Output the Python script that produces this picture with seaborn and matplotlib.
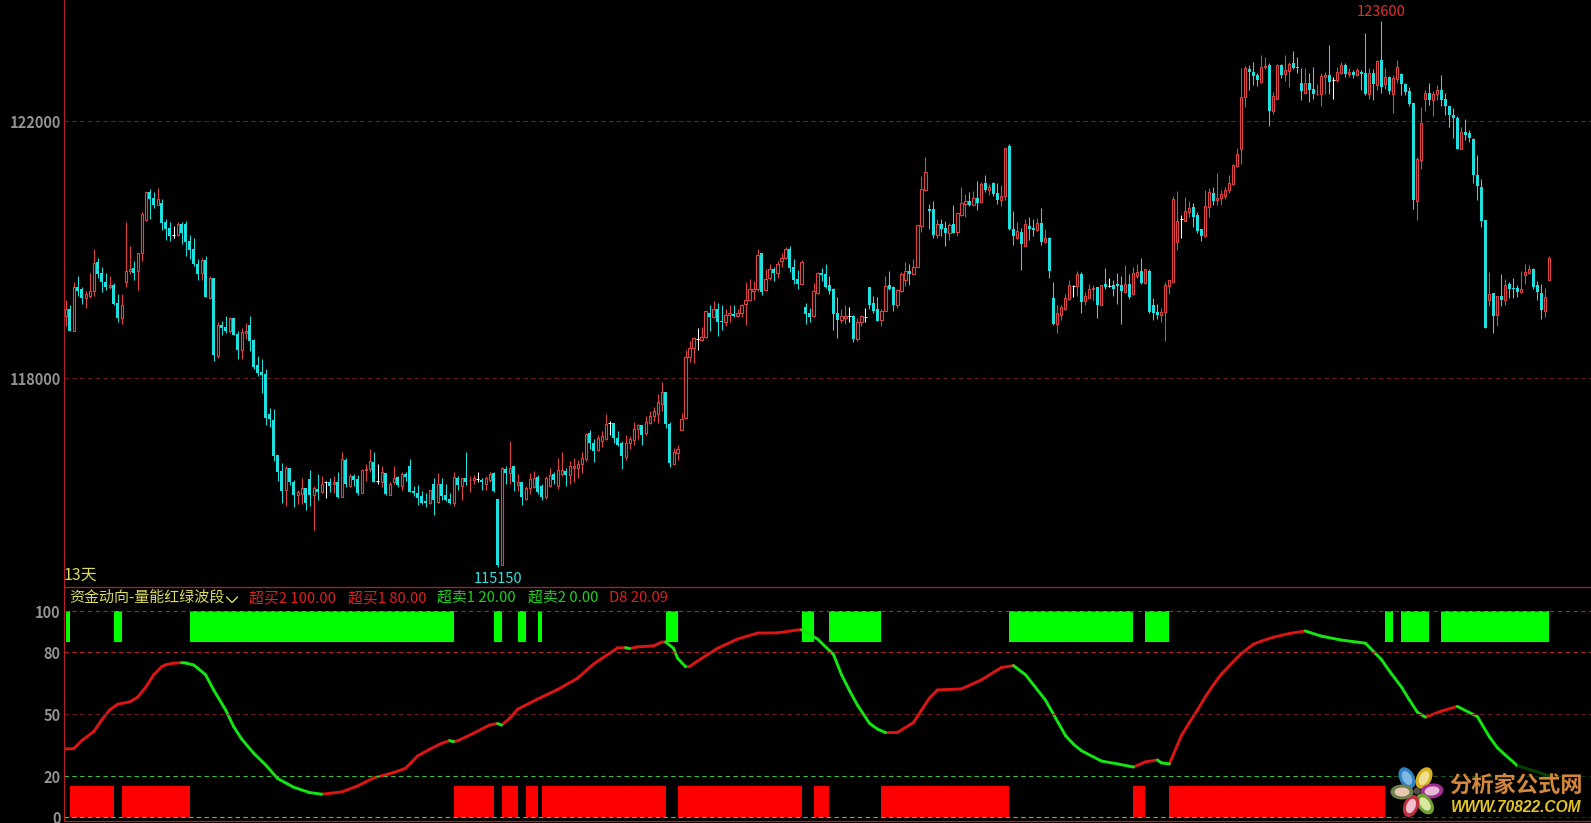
"""
Recreates the futures K-line screenshot: log-scale candles on top, the
"资金动向-量能红绿波段" indicator below.
"""

import numpy as np
import pandas as pd
import matplotlib
matplotlib.use("Agg")
import matplotlib.pyplot as plt
from matplotlib.lines import Line2D
from matplotlib.patches import Ellipse, Rectangle
from matplotlib.ticker import NullLocator
import seaborn as sns

W, H = 1591, 823
FONT = ["Noto Sans CJK SC", "DejaVu Sans"]

# Candle values, one entry per bar
highs = [
    119200,119120,119490,119580,119410,119340,119620,119990,119850,119720,119620,119570,
    119470,119300,119300,120410,120050,119810,119930,120580,120890,120930,120890,120950,
    120770,120470,120410,120350,120420,120410,120440,120210,120170,119840,119850,119880,
    119580,119540,118860,118880,118960,118940,118930,118720,118780,118850,118950,118600,
    118340,118290,118150,117550,117530,116830,116710,116670,116630,116450,116310,116480,
    116330,116600,116360,116540,116520,116440,116490,116520,116570,116870,116780,116540,
    116540,116530,116620,116690,116930,116870,116690,116660,116560,116430,116660,116510,
    116570,116570,116770,116360,116380,116290,116250,116310,116480,116560,116490,116390,
    116250,116580,116520,116490,116880,116510,116530,116580,116480,116520,116570,116570,
    116160,116650,116670,117040,116660,116540,116430,116360,116560,116590,116530,116390,
    116510,116630,116570,116780,116870,116630,116740,116780,116760,116870,117170,117210,
    117080,117130,117190,117460,117350,117320,117190,117040,117130,117120,117340,117310,
    117280,117430,117500,117560,117760,117950,117790,117330,116940,116980,117470,118430,
    118570,118640,118780,118790,119040,119130,119190,119160,119130,119060,119120,119120,
    119070,119150,119480,119530,119500,119990,119930,119680,119770,119720,119810,119930,
    120020,120050,119840,119670,119820,119160,119080,119470,119640,119700,119770,119580,
    119390,119250,119060,119130,119090,118970,118930,118970,119080,119400,119270,119250,
    119060,119570,119660,119420,119380,119640,119790,119770,119840,120370,121130,121430,
    120700,120740,120460,120460,120430,120400,120690,120550,120960,120850,120890,120900,
    121060,121050,121160,121010,121050,121030,120990,121580,121640,120590,120420,120320,
    120470,120490,120460,120480,120630,120310,120190,119490,119130,119130,119300,119520,
    119430,119660,119640,119330,119460,119440,119400,119440,119700,119540,119510,119630,
    119580,119740,119600,119710,119770,119850,119690,119680,119230,119150,119080,119480,
    119520,120820,120900,120520,120810,120740,120710,120570,120300,120910,120950,120960,
    121180,120920,120970,121150,121330,121580,122850,122880,122890,122950,122760,123050,
    123020,122930,122460,122910,122910,123060,122940,123120,123020,122840,122840,122760,
    122860,122590,122760,122790,123220,122700,122860,122940,122930,122840,122810,122840,
    122810,123400,122840,122830,122970,123600,122840,122720,122740,122970,122760,122610,
    122540,122290,121440,122220,122500,122600,122480,122570,122740,122450,122250,122210,
    122080,121910,122030,121870,121730,121470,121090,120450,119640,119310,119270,119600,
    119530,119490,119550,119430,119650,119770,119750,119700,119500,119460,119390,119880,
]
body_tops = [
    119060,119060,119410,119410,119370,119290,119350,119780,119790,119630,119490,119430,
    119430,119160,119130,119660,119680,119700,119930,120540,120880,120890,120800,120770,
    120710,120410,120320,120220,120380,120380,120380,120120,119990,119770,119820,119820,
    119540,119540,118820,118820,118790,118920,118920,118680,118710,118720,118820,118590,
    118200,118100,118070,117460,117370,116830,116590,116630,116630,116430,116270,116330,
    116330,116470,116330,116320,116400,116420,116430,116420,116420,116770,116760,116510,
    116510,116470,116610,116620,116740,116720,116440,116580,116560,116390,116480,116500,
    116540,116540,116660,116290,116250,116210,116130,116300,116390,116390,116390,116220,
    116160,116500,116490,116480,116480,116460,116480,116470,116460,116480,116540,116560,
    116160,116640,116620,116640,116660,116430,116430,116340,116470,116490,116500,116370,
    116480,116530,116540,116600,116600,116590,116660,116670,116700,116780,117150,117170,
    117020,117090,117120,117310,117320,117320,117090,117010,117020,117070,117230,117280,
    117280,117340,117420,117500,117640,117790,117790,117310,116880,116920,117380,118320,
    118470,118620,118610,118630,119030,119000,119060,119070,118880,118970,119000,118990,
    119010,119120,119210,119370,119380,119910,119930,119530,119680,119680,119770,119850,
    119990,119990,119710,119530,119790,119100,119010,119340,119620,119620,119600,119430,
    119370,119010,118950,118960,118950,118960,118870,118950,118940,119400,119160,119070,
    119040,119420,119430,119400,119360,119600,119650,119650,119710,120370,120940,121200,
    120620,120620,120380,120390,120320,120370,120380,120550,120710,120740,120740,120800,
    120800,121010,121020,120960,121020,120870,120830,121580,121610,120310,120270,120260,
    120380,120350,120320,120400,120400,120160,120170,119240,119000,119090,119240,119430,
    119420,119600,119600,119270,119380,119390,119400,119440,119450,119420,119430,119460,
    119430,119450,119460,119620,119640,119650,119680,119660,119120,119020,119020,119430,
    119510,120770,120440,120460,120590,120640,120650,120530,120300,120660,120880,120870,
    120790,120850,120920,121020,121310,121490,122380,122840,122830,122780,122730,122860,
    122880,122900,122400,122900,122890,122810,122910,122930,122860,122610,122610,122600,
    122520,122440,122720,122740,122730,122650,122780,122900,122900,122780,122780,122810,
    122790,122760,122770,122760,122960,122970,122700,122700,122680,122860,122750,122590,
    122480,122290,121400,121970,122450,122450,122440,122500,122500,122350,122250,122100,
    122060,121830,121830,121810,121720,121160,120970,120450,119300,119310,119270,119270,
    119440,119450,119390,119390,119380,119640,119680,119680,119430,119320,119250,119850,
]
body_bots = [
    118950,118730,118730,119340,119240,119240,119270,119340,119600,119490,119400,119400,
    119150,118930,118930,119490,119660,119630,119650,119940,120450,120770,120690,120690,
    120400,120300,120200,120220,120210,120240,120100,119980,119760,119600,119620,119250,
    119230,118350,118340,118780,118720,118720,118670,118430,118430,118700,118570,118170,
    118080,118050,117400,117380,116820,116580,116290,116310,116430,116220,116220,116240,
    116110,116220,116220,116280,116280,116420,116360,116390,116190,116200,116400,116370,
    116450,116250,116260,116600,116620,116430,116440,116430,116240,116220,116430,116380,
    116360,116500,116280,116250,116180,116110,116110,116100,116150,116120,116210,116150,
    116110,116110,116380,116370,116430,116450,116450,116470,116420,116400,116450,116290,
    115180,115180,116560,116560,116430,116380,116190,116170,116340,116350,116270,116190,
    116190,116370,116460,116370,116540,116530,116530,116640,116640,116690,116770,117010,
    116900,116910,117040,117080,117320,117090,116990,116810,116800,117010,117060,117220,
    117140,117160,117320,117420,117460,117610,117310,116710,116700,116860,117210,117400,
    118330,118470,118610,118590,118640,118940,118940,118870,118860,118870,118980,118950,
    118950,119000,119150,119210,119350,119370,119330,119360,119550,119620,119620,119810,
    119850,119700,119510,119450,119450,118990,118940,118950,119320,119590,119410,119340,
    118990,118900,118900,118930,118950,118610,118610,118860,118940,119130,119040,118880,
    118900,119030,119380,119120,119120,119340,119520,119610,119610,119720,120350,120920,
    120590,120210,120210,120300,120240,120240,120250,120260,120530,120700,120690,120690,
    120720,120730,120910,120920,120850,120760,120760,120830,120300,120200,120160,120070,
    120050,120300,120290,120290,120100,120110,119660,118840,118840,118970,119070,119220,
    119420,119420,119180,119190,119240,119370,119130,119120,119410,119420,119370,119420,
    119350,119330,119250,119290,119570,119470,119470,119020,119000,118970,118980,119020,
    119420,119490,120110,120460,120440,120570,120500,120270,120200,120200,120650,120750,
    120760,120790,120830,120910,121010,121290,121560,122380,122780,122720,122660,122620,
    122860,122170,122170,122360,122730,122750,122800,122850,122840,122480,122450,122500,
    122430,122430,122440,122700,122630,122650,122650,122760,122750,122750,122730,122730,
    122750,122430,122440,122590,122570,122540,122590,122480,122440,122670,122590,122460,
    122280,120760,120750,121390,122360,122330,122330,122430,122340,122250,122100,122060,
    121560,121560,121790,121730,121160,120980,120430,118780,119200,118950,118970,119200,
    119200,119380,119370,119330,119330,119590,119630,119400,119330,119050,119030,119510,
]
lows = [
    118800,118730,118730,119260,119150,119080,119230,119270,119550,119330,119360,119380,
    119130,118870,118840,119410,119600,119520,119360,119810,120430,120470,120630,120680,
    120290,120140,120120,120160,120200,120080,119880,119840,119730,119510,119520,119250,
    119220,118270,118310,118670,118690,118700,118660,118290,118300,118610,118420,118150,
    118030,117780,117290,117260,116740,116440,116110,116060,116380,116040,116090,116090,
    116000,116060,115700,116150,116250,116180,116280,116250,116180,116190,116350,116350,
    116370,116220,116250,116440,116580,116420,116390,116350,116220,116220,116390,116350,
    116300,116440,116270,116210,116070,116090,116040,116090,115930,116110,116150,116130,
    116090,116060,116300,116150,116380,116280,116390,116420,116300,116300,116430,116270,
    115150,115180,116400,116390,116290,116290,116080,116150,116240,116340,116240,116150,
    116170,116350,116390,116320,116510,116360,116400,116430,116490,116560,116740,116920,
    116730,116900,116960,117060,117140,117010,116970,116620,116760,116920,116990,117070,
    116990,117140,117300,117350,117320,117500,117240,116650,116690,116760,117210,117380,
    118250,118230,118430,118580,118620,118730,118920,118650,118740,118800,118870,118940,
    118940,118940,118820,119190,119200,119350,119280,119360,119520,119500,119550,119710,
    119840,119640,119450,119380,119450,118840,118870,118940,119290,119500,119390,119290,
    118740,118620,118850,118840,118870,118560,118570,118810,118860,119060,119000,118880,
    118810,119030,119360,119040,119080,119330,119420,119430,119600,119710,120260,120900,
    120300,120170,120160,120200,120040,120140,120240,120200,120510,120490,120670,120680,
    120610,120720,120890,120840,120820,120700,120670,120760,120290,120060,120150,119670,
    120040,120140,120200,120270,120060,120090,119550,118820,118690,118890,119050,119210,
    119250,119260,119010,119120,119230,119210,118930,119120,119380,119400,119260,119150,
    118830,119320,119220,119280,119540,119450,119460,119000,118900,118910,118870,118570,
    119300,119490,119980,120160,120430,120500,120340,120240,120120,120180,120500,120690,
    120690,120690,120770,120870,121000,121280,121330,122220,122490,122570,122560,122610,
    122830,121920,122120,122360,122680,122640,122540,122830,122760,122330,122440,122310,
    122350,122420,122250,122430,122430,122360,122620,122750,122700,122700,122690,122720,
    122500,122410,122350,122340,122490,122450,122510,122440,122130,122600,122420,122420,
    122250,120620,120450,121240,122170,122260,122090,122340,122250,122100,121910,121740,
    121560,121560,121710,121670,121020,120760,120340,118780,119110,118700,118810,119110,
    119120,119240,119240,119250,119310,119450,119600,119380,119210,118910,118940,119510,
]
# u = close above open, d = close below open, f = flat
moves = (
    "ududduuudd" "dudduuuduu" "uddudddfud" "ddddududud" "dudduudddd"
    "dddddudduu" "ddudufdudu" "dudduuudfu" "duududdddd" "dududddudu"
    "duufduuddu" "dududuuudd" "uuduuduuuu" "udduuufddd" "uuuuduuuuu"
    "dduuuuuufu" "ududduuduu" "uuuuduuduu" "udddudduud" "dddduufduu"
    "fddduudduu" "uduuuuddud" "duduuududu" "dudduuddud" "uddududduu"
    "uufuduuudu" "dfddduduud" "uddduuuuuf" "uuddduuduu" "uuuuuudddu"
    "uduuduuddd" "udduuudfuu" "dududdudud" "uduudddduu" "uduudddddu"
    "ddddddudud" "uddduuuddduu"
)

# Indicator curve, sampled along the bars
line_idx = [0,2,4,7,9,11,13,16,18,20,22,24,25,27,29,30,32,33,35,37,40,42,44,47,50,53,57,61,64,69,
            73,77,82,85,88,91,94,96,97,98,102,106,108,109,111,113,118,123,128,132,136,138,140,141,
            143,147,149,150,152,153,155,156,159,163,168,173,178,183,184,186,188,192,194,196,198,201,
            203,205,208,212,214,216,218,224,229,234,237,240,245,247,250,252,254,259,263,267,270,273,
            274,276,279,281,283,285,287,289,292,294,297,299,302,306,310,314,319,325,329,331,334,336,
            338,340,344,348,353,356,358,360,363,367,371]
line_val = [33.2,33.3,37.2,41.6,47.2,52.1,54.9,56.0,58.3,63.1,69.1,73.1,74.0,74.8,75.0,74.9,73.9,72.4,
            69.1,61.8,52.1,44.0,38.0,31.1,25.4,18.8,14.6,12.0,11.2,12.3,15.2,19.1,21.7,23.8,29.8,33.0,
            35.9,37.2,36.7,37.1,40.8,44.8,45.5,44.7,48.0,52.4,57.4,62.0,67.5,74.4,79.6,82.2,82.3,81.9,
            82.7,83.2,85.0,85.1,82.0,77.2,73.1,73.2,77.1,82.0,86.5,89.4,89.5,90.9,91.0,88.9,86.5,79.0,
            69.2,61.5,54.4,45.6,42.8,41.1,41.2,46.0,52.0,57.9,61.8,62.3,66.7,72.7,73.6,69.2,56.9,50.0,
            39.7,35.5,32.3,27.3,25.9,24.4,26.9,27.8,26.4,25.9,39.7,46.0,52.0,58.5,64.3,69.5,75.6,79.5,
            84.0,85.5,87.4,89.2,90.4,87.9,86.0,84.5,76.6,71.0,63.3,57.0,51.0,48.6,51.5,53.8,48.9,39.1,
            33.8,30.2,25.1,22.6,20.09]

# Signal blocks as bar ranges (first bar, bar after the last)
green_start = [0, 12, 31, 107, 113, 118, 150, 184, 191, 236, 270, 330, 334, 344]
green_stop = [1, 14, 97, 109, 115, 119, 153, 187, 204, 267, 276, 332, 341, 371]
red_start = [1, 14, 97, 109, 115, 119, 153, 187, 204, 267, 276]
red_stop = [12, 31, 107, 113, 118, 150, 184, 191, 236, 270, 330]

main_ticks = [118000, 122000]
sub_ticks = [0, 20, 50, 80, 100]
legend_labels = ["超买2 100.00", "超买1 80.00", "超卖1 20.00", "超卖2 0.00", "D8 20.09"]
legend_colors = ["#e02020", "#e02020", "#20d020", "#20d020", "#e02020"]
legend_x = [249, 348, 437, 528, 609]

C_UP, C_DOWN, C_FLAT = "#e04444", "#1fe0e0", "#ffffff"
C_AXIS, C_TICK, C_YELLOW = "#b02222", "#929292", "#dcdc60"


def px_x(x):
    return x / W


def px_y(y):
    return 1 - y / H


def draw_candles(ax):
    """Wicks under the bodies; up bars are hollow, down bars are filled."""
    df = pd.DataFrame({"idx": np.arange(len(highs)), "high": highs, "low": lows,
                       "top": body_tops, "bot": body_bots, "move": list(moves)})
    for move, color in (("u", C_UP), ("d", C_DOWN), ("f", C_FLAT)):
        sub = df[df["move"] == move]
        ax.vlines(sub["idx"], sub["low"], sub["high"], color=color, lw=0.75, zorder=2)
        if move == "u":
            ax.bar(sub["idx"], sub["top"] - sub["bot"], bottom=sub["bot"], width=0.52,
                   facecolor="black", edgecolor=color, linewidth=0.8, zorder=3)
        elif move == "d":
            ax.bar(sub["idx"], sub["top"] - sub["bot"], bottom=sub["bot"], width=0.88,
                   color=color, linewidth=0, zorder=3)
        else:
            ax.hlines(sub["top"], sub["idx"] - 0.35, sub["idx"] + 0.35, color=color,
                      lw=0.75, zorder=3)


def draw_blocks(ax, starts, stops, bottom, height, color):
    idx = np.concatenate([np.arange(a, b) for a, b in zip(starts, stops)])
    blocks = pd.DataFrame({"pos": idx + 0.5, "height": float(height)})
    sns.barplot(data=blocks, x="pos", y="height", native_scale=True, width=1.0, gap=0,
                color=color, saturation=1, bottom=bottom, linewidth=0, errorbar=None,
                ax=ax, zorder=2)


def draw_indicator(ax):
    rows = []
    for k in range(len(line_idx) - 1):
        kind = "up" if line_val[k + 1] >= line_val[k] else "down"
        rows.append({"seg": k, "x": line_idx[k], "y": line_val[k], "kind": kind})
        rows.append({"seg": k, "x": line_idx[k + 1], "y": line_val[k + 1], "kind": kind})
    sns.lineplot(data=pd.DataFrame(rows), x="x", y="y", hue="kind", units="seg",
                 estimator=None, palette={"up": "#dc1414", "down": "#14e614"},
                 lw=2.1, legend=False, ax=ax, zorder=4, solid_capstyle="round")


def draw_watermark(fig):
    over = fig.add_axes([0, 0, 1, 1], facecolor="none")
    over.set_xlim(0, W)
    over.set_ylim(H, 0)
    over.axis("off")
    over.add_patch(Rectangle((1517, 760), 74, 63, color="black", alpha=0.72, lw=0))
    over.add_patch(Rectangle((1395, 770), 122, 53, color="black", alpha=0.55, lw=0))
    petals = [(1407, 778, 62, "#2f80c4", "#7fb8e0"), (1424, 778, 118, "#d8b020", "#efe090"),
              (1432, 791, 172, "#a03090", "#e8b8d8"), (1425, 804, 55, "#70a030", "#d8e8a0"),
              (1411, 806, 112, "#c03040", "#f0c0d0"), (1402, 792, 0, "#708050", "#e8c8b0")]
    for x, y, angle, outer, inner in petals:
        over.add_patch(Ellipse((x, y), 23, 15, angle=angle, color=outer, lw=0))
        over.add_patch(Ellipse((x, y), 15, 9, angle=angle, color=inner, lw=0))
    over.add_patch(Ellipse((1417, 791), 7, 7, color="#50504a", lw=0))
    over.text(1516, 785, "分析家公式网", color="#d2883a", fontsize=16, fontweight="bold",
              family=FONT, ha="center", va="center")
    over.text(1516, 807.5, "WWW.70822.COM", color="#e2c422", fontsize=11.2, fontweight="bold",
              fontstyle="italic", family="Liberation Sans", ha="center", va="center")


def main():
    sns.set_theme(style="dark", rc={"figure.facecolor": "black", "axes.facecolor": "black",
                                    "savefig.facecolor": "black"})
    plt.rcParams["font.family"] = FONT
    fig = plt.figure(figsize=(W / 100, H / 100), dpi=100)

    left = 63.5 / W
    ax = fig.add_axes([left, px_y(586.7), 1 - left, 586.7 / H])
    sub = fig.add_axes([left, px_y(820.7), 1 - left, (820.7 - 586.7) / H])
    xlim = (-0.55, (W - 65.3) / 4)

    draw_candles(ax)
    ax.set_yscale("log")
    ax.set_ylim(114853, 123935)
    ax.set_xlim(*xlim)
    ax.set_yticks(main_ticks)
    ax.set_yticklabels([str(t) for t in main_ticks])
    ax.yaxis.set_minor_locator(NullLocator())
    for t in main_ticks:
        ax.axhline(t, color="#6e1c1c", lw=0.8, ls=(0, (4, 3)), zorder=1)

    draw_blocks(sub, green_start, green_stop, 85, 15, "#00ff00")
    draw_blocks(sub, red_start, red_stop, 0, 15, "#ff0000")
    draw_indicator(sub)
    sub.set_xlim(*xlim)
    sub.set_ylim(-1.65, 111.9)
    sub.set_yticks(sub_ticks)
    sub.set_yticklabels([str(t) for t in sub_ticks])
    guide_colors = {100: "#b82020", 80: "#b02020", 50: "#6e1c1c", 20: "#3cc03c", 0: "#50c840"}
    for t, color in guide_colors.items():
        sub.axhline(t, color=color, lw=0.8, ls=(0, (4, 3)), zorder=5)

    for a in (ax, sub):
        a.set_xlabel("")
        a.set_ylabel("")
        a.set_xticks([])
        a.grid(False)
        a.tick_params(axis="y", length=0, pad=2, labelsize=10.5, labelcolor=C_TICK)
        for label in a.get_yticklabels():
            label.set_fontweight("bold")
        for spine in a.spines.values():
            spine.set_visible(False)

    # Panel frame, drawn on the figure so neither axes covers it
    for xs, ys in (((63.5, 63.5), (0, 820.7)), ((63.5, W), (586.5, 586.5)), ((63.5, W), (820.5, 820.5))):
        fig.add_artist(Line2D([px_x(v) for v in xs], [px_y(v) for v in ys], color=C_AXIS, lw=0.9))

    # Extreme labels on the candles
    ax.annotate("123600", (329, 123600), xytext=(0, 1), textcoords="offset points",
                color="#e03030", fontsize=10.5, ha="center", va="bottom")
    ax.annotate("115150", (108, 115150), xytext=(0, -3.5), textcoords="offset points",
                color="#30e0e0", fontsize=10.5, ha="center", va="top")

    # Header rows
    fig.text(px_x(63.5), px_y(575.5), "13天", color=C_YELLOW, fontsize=11.5, va="center")
    fig.text(px_x(69), px_y(598), "资金动向-量能红绿波段", color=C_YELLOW, fontsize=10.8,
             va="center")
    fig.add_artist(Line2D([px_x(226.5), px_x(232), px_x(237.5)],
                          [px_y(597), px_y(602.5), px_y(597)], color=C_YELLOW, lw=1.0))
    for text, color, x in zip(legend_labels, legend_colors, legend_x):
        fig.text(px_x(x), px_y(598), text, color=color, fontsize=10.7, va="center")

    draw_watermark(fig)
    fig.savefig("out.png", dpi=100, facecolor="black")
    plt.close(fig)


if __name__ == "__main__":
    main()
